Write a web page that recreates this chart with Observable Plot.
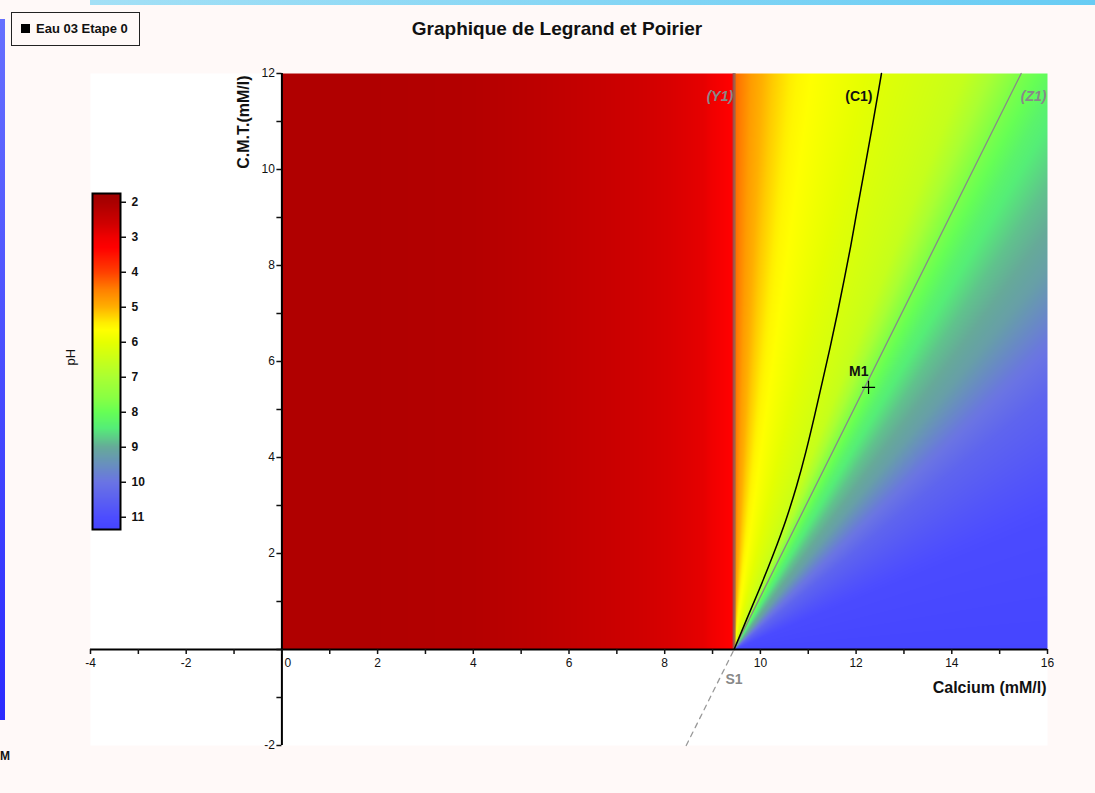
<!DOCTYPE html>
<html>
<head>
<meta charset="utf-8">
<script src="https://cdn.jsdelivr.net/npm/d3@7"></script>
<script src="https://cdn.jsdelivr.net/npm/@observablehq/plot@0.6"></script>
<style>
  html, body { margin: 0; padding: 0; background: #fff9f8; overflow: hidden; }
  #page { position: relative; width: 1095px; height: 793px; font-family: Arial, "Liberation Sans", sans-serif; color: #111; }
  #topbar { position: absolute; left: 90px; top: 0; width: 1005px; height: 5px; background: linear-gradient(to right, #a3e0f6, #68ccf4); }
  #sidebar { position: absolute; left: 0; top: 19px; width: 5px; height: 701px; background: linear-gradient(to bottom, #6670ff, #2b2bff); }
  #cutM { position: absolute; left: 0; top: 749px; font-weight: bold; font-size: 12px; }
  #legendbox { position: absolute; left: 11px; top: 12px; width: 129px; height: 34px; box-sizing: border-box; border: 1.5px solid #222; }
  #legendbox .sw { position: absolute; left: 9px; top: 11px; width: 9px; height: 9px; background: #000; }
  #legendbox .lb { position: absolute; left: 24px; top: 7px; font-size: 13px; font-weight: bold; line-height: 17px; white-space: nowrap; }
  #title { position: absolute; left: 0; top: 18px; width: 1114px; text-align: center; font-size: 19px; font-weight: bold; line-height: 22px; }
  #main { position: absolute; left: 0; top: 0; }
  #bar { position: absolute; left: 50px; top: 183px; }
</style>
</head>
<body>
<div id="page">
  <div id="topbar"></div>
  <div id="sidebar"></div>
  <span id="cutM">M</span>
  <div id="legendbox"><div class="sw"></div><div class="lb">Eau 03 Etape 0</div></div>
  <div id="title">Graphique de Legrand et Poirier</div>
  <div id="main"></div>
  <div id="bar"></div>
</div>
<script>
const FONT = 'Arial, "Liberation Sans", sans-serif';

// ---- axes (Calcium in mM/l on x, C.M.T. in mM/l on y) ----
const xDomain = [-4, 16];
const yDomain = [-2, 12];
const xTickValues = [-4, -3, -2, -1, 0, 1, 2, 3, 4, 5, 6, 7, 8, 9, 10, 11, 12, 13, 14, 15, 16];
const xTickLabels = [-4, -2, 2, 4, 6, 8, 10, 12, 14, 16];
const xZeroLabel = [0];
const yTickValues = [-2, -1, 0, 1, 2, 3, 4, 5, 6, 7, 8, 9, 10, 11, 12];
const yTickLabels = [-2, 2, 4, 6, 8, 10, 12];

// ---- pH colour scale (legend stops) ----
const colorPH  = [1.75, 2.0, 2.62, 3.0, 3.3, 4.0, 4.5, 5.0, 5.45, 5.65, 6.0, 7.0, 7.6, 8.0, 8.45, 9.0, 10.0, 11.0, 11.35];
const colorHex = ["#a00000", "#aa0000", "#d00000", "#f00000", "#ff0000", "#ff4000", "#ff8000", "#ffb000", "#ffee00",
                  "#ffff00", "#e6ff00", "#aaff33", "#88ff44", "#66ff55", "#55ee77", "#66aa99", "#6a74e4", "#4d4dff", "#4444ff"];
const phTicks = [2, 3, 4, 5, 6, 7, 8, 9, 10, 11];
const phRange = [1.75, 11.35];

// ---- pH field ----
const heatCa = [0, 16];
const heatCmt = [0, 12];
// acid side (left of Y1): pH by calcium
const leftCa = [0, 1.85, 3.94, 5.34, 6.72, 8.12, 8.81, 9.31, 9.45];
const leftPH = [2.1, 2.1, 2.16, 2.31, 2.49, 2.72, 2.88, 3.25, 3.35];
// carbonate side: pH along rays from S1, by ray angle (degrees)
const rayAngle = [0, 22.3, 30.1, 39.0, 44.7, 50.4, 55.9, 60.3, 63.7, 65.9, 68.1, 70.1, 75.6, 79.5, 83.7, 86.1, 88.3, 89.6, 90];
const rayPH    = [11.3, 11.1, 10.8, 10.4, 9.9, 9.2, 8.8, 8.3, 7.7, 7.0, 6.55, 6.4, 6.1, 5.85, 5.55, 5.2, 4.8, 4.4, 4.3];

// ---- remarkable lines and points ----
const s1Ca = 9.45, s1Cmt = 0;
const y1Ca = 9.45, y1Cmt = [0, 12];
const z1Ca = [9.45, 15.45], z1Cmt = [0, 12];
const z1ExtCa = [8.45, 9.45], z1ExtCmt = [-2, 0];
const c1Ca  = [9.45, 9.70, 10.0, 10.28, 10.54, 10.76, 10.95, 11.14, 11.30, 11.46, 11.61, 11.75, 11.89, 12.01, 12.14, 12.34, 12.53];
const c1Cmt = [0, 0.6, 1.3, 2.0, 2.7, 3.4, 4.1, 4.9, 5.6, 6.3, 7.0, 7.7, 8.4, 9.1, 9.8, 10.9, 12];
const m1 = {ca: 12.26, cmt: 5.46, name: "M1"};

const zip = (xs, ys) => xs.map((x, i) => ({x, y: ys[i]}));

const colorOpts = {type: "linear", domain: colorPH, range: colorHex, interpolate: "rgb"};

const leftScale = d3.scaleLinear(leftCa, leftPH).clamp(true);
const rayScale = d3.scaleLinear(rayAngle, rayPH).clamp(true);
function phAt(x, y) {
  if (x < y1Ca) return leftScale(x);
  const deg = Math.atan2(y - s1Cmt, x - s1Ca) * 180 / Math.PI;
  return rayScale(deg);
}

// ---- main chart geometry ----
const W = 1095, H = 793;
const mL = 90, mR = 48, mT = 73, mB = 48;
const pxX = (W - mL - mR) / (xDomain[1] - xDomain[0]);
const pxY = (H - mT - mB) / (yDomain[1] - yDomain[0]);
const axisDy = -(0 - yDomain[0]) * pxY;   // lift bottom axis to y = 0
const axisDx = (0 - xDomain[0]) * pxX;    // move left axis to x = 0

const labels = [
  {x: y1Ca, y: y1Cmt[1], text: "(Y1)", fill: "#888", italic: true},
  {x: c1Ca[c1Ca.length - 1], y: c1Cmt[c1Cmt.length - 1], text: "(C1)", fill: "#111", italic: false},
  {x: xDomain[1], y: z1Cmt[1], text: "(Z1)", fill: "#888", italic: true}
];

const chart = Plot.plot({
  width: W, height: H,
  marginLeft: mL, marginRight: mR, marginTop: mT, marginBottom: mB,
  style: {background: "transparent", fontFamily: FONT, fontSize: "12px", color: "#111"},
  x: {domain: xDomain},
  y: {domain: yDomain},
  color: colorOpts,
  marks: [
    Plot.frame({fill: "white", stroke: null}),
    Plot.raster({fill: phAt, x1: heatCa[0], x2: heatCa[1], y1: heatCmt[0], y2: heatCmt[1]}),
    // Y1 vertical
    Plot.ruleX([y1Ca], {y1: y1Cmt[0], y2: y1Cmt[1], stroke: "#806060", strokeWidth: 3, strokeOpacity: 0.75}),
    // Z1 and its dashed extension below S1
    Plot.line(zip(z1Ca, z1Cmt), {x: "x", y: "y", stroke: "#888", strokeWidth: 1.3}),
    Plot.line(zip(z1ExtCa, z1ExtCmt), {x: "x", y: "y", stroke: "#999", strokeWidth: 1.3, strokeDasharray: "5,5"}),
    // C1 calco-carbonic equilibrium curve
    Plot.line(zip(c1Ca, c1Cmt), {x: "x", y: "y", stroke: "#000", strokeWidth: 1.5, curve: "basis"}),
    // axes
    Plot.ruleY([0], {x1: xDomain[0], x2: xDomain[1], stroke: "#000", strokeWidth: 2}),
    Plot.ruleX([0], {y1: yDomain[0], y2: yDomain[1], stroke: "#000", strokeWidth: 2}),
    Plot.axisX({anchor: "bottom", ticks: xTickValues, tickSize: 5, tickFormat: () => "", dy: axisDy, strokeWidth: 1.5}),
    Plot.axisY({anchor: "left", ticks: yTickValues, tickSize: 5, tickPadding: 2, dx: axisDx, strokeWidth: 1.5,
                tickFormat: d => yTickLabels.includes(d) ? String(d) : "", fontSize: 12, label: null}),
    Plot.text(xTickLabels, {x: d => d, y: 0, dy: 9, lineAnchor: "top", fontSize: 12}),
    Plot.text(xZeroLabel, {x: d => d, y: 0, dx: 6, dy: 9, lineAnchor: "top", fontSize: 12}),
    // axis titles
    Plot.text(["Calcium (mM/l)"], {x: xDomain[1], y: 0, dy: 38, dx: -1, textAnchor: "end", fontWeight: "bold", fontSize: 16}),
    Plot.text(["C.M.T.(mM/l)"], {x: 0, y: yDomain[1], dx: -38, dy: 2, rotate: -90, textAnchor: "end", fontWeight: "bold", fontSize: 16}),
    // line labels
    Plot.text(labels.filter(d => d.italic), {x: "x", y: "y", text: "text", fill: "fill", dy: 23, dx: -1, textAnchor: "end",
              fontWeight: "bold", fontStyle: "italic", fontSize: 14}),
    Plot.text(labels.filter(d => !d.italic), {x: "x", y: "y", text: "text", fill: "fill", dy: 23, dx: -9, textAnchor: "end",
              fontWeight: "bold", fontSize: 14}),
    Plot.text([{x: s1Ca, y: s1Cmt, t: "S1"}], {x: "x", y: "y", text: "t", dy: 30, fill: "#888", fontWeight: "bold", fontSize: 14}),
    // point M1
    Plot.dot([m1], {x: "ca", y: "cmt", symbol: "plus", r: 4.3, stroke: "#000", strokeWidth: 1.2}),
    Plot.text([m1], {x: "ca", y: "cmt", text: "name", dy: -16, textAnchor: "end", fontWeight: "bold", fontSize: 14, fill: "#111"})
  ]
});
document.getElementById("main").appendChild(chart);

// ---- vertical pH colour bar ----
const bar = Plot.plot({
  width: 110, height: 356,
  marginLeft: 42, marginRight: 40, marginTop: 10, marginBottom: 10,
  style: {background: "transparent", fontFamily: FONT, fontSize: "12px", color: "#111"},
  x: {domain: [0, 1], axis: null},
  y: {domain: phRange, reverse: true},
  color: colorOpts,
  marks: [
    Plot.raster({fill: (x, y) => y, x1: 0, x2: 1, y1: phRange[0], y2: phRange[1]}),
    Plot.frame({stroke: "#000", strokeWidth: 2}),
    Plot.axisY({anchor: "right", ticks: phTicks, tickSize: 5, tickPadding: 6, strokeWidth: 1.5, fontWeight: "bold", fontSize: 12, label: null}),
    Plot.text(["pH"], {frameAnchor: "left", rotate: -90, dx: -22, dy: 4, fontSize: 13})
  ]
});
document.getElementById("bar").appendChild(bar);
</script>
</body>
</html>
